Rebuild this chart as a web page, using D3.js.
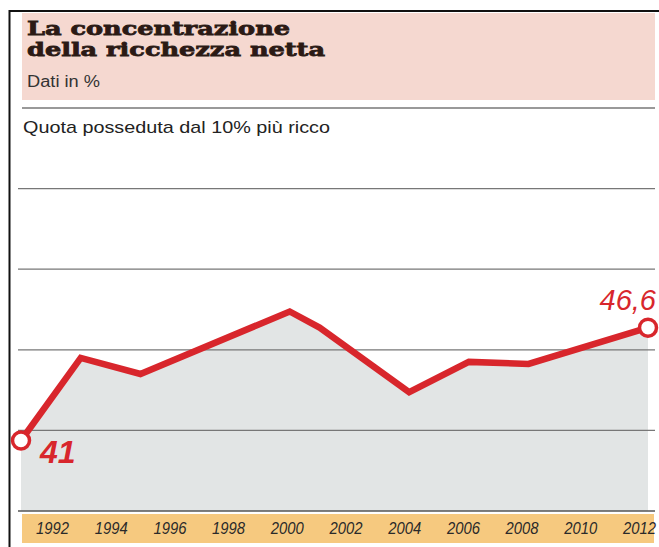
<!DOCTYPE html>
<html>
<head>
<meta charset="utf-8">
<script src="https://cdn.jsdelivr.net/npm/d3@7"></script>
<style>
  html, body { margin: 0; padding: 0; background: #fff; }
  svg { display: block; }
</style>
</head>
<body>
<svg id="chart" width="659" height="547"></svg>
<script>
// Survey years and share of net wealth held by the richest 10% (%)
const years  = [1991, 1993, 1995, 2000, 2001, 2004, 2006, 2008, 2012];
const shares = [41.0, 45.1, 44.3, 47.4, 46.6, 43.4, 44.9, 44.8, 46.6];
// Horizontal reference lines (values on the % scale) and the chart floor
const gridValues = [41.5, 45.5, 49.5, 53.5, 57.5];
const floorValue = 37.5;
// Year labels in the bottom strip
const tickYears = [1992, 1994, 1996, 1998, 2000, 2002, 2004, 2006, 2008, 2010, 2012];
// End-point labels
const endLabels = ["41", "46,6"];

const data = years.map((yr, i) => ({ year: yr, value: shares[i] }));

const svg = d3.select("#chart");
const W = 659, H = 547;

const RED = "#d8262c";

const x = d3.scaleLinear().domain([1991, 2012]).range([21, 648]);
const y = d3.scaleLinear().domain([floorValue, 57.5]).range([511, 108]);
const xLab = d3.scaleLinear().domain([1992, 2012]).range([52, 639]);

svg.append("rect").attr("width", W).attr("height", H).attr("fill", "#fff");

// Frame: top rule and left rule
svg.append("line").attr("x1", 9).attr("x2", W).attr("y1", 11).attr("y2", 11)
  .attr("stroke", "#111").attr("stroke-width", 2);
svg.append("line").attr("x1", 9.5).attr("x2", 9.5).attr("y1", 10).attr("y2", H)
  .attr("stroke", "#111").attr("stroke-width", 2);

// Title panel
svg.append("rect").attr("x", 22).attr("y", 13).attr("width", 633).attr("height", 87)
  .attr("fill", "#f5d8d0");

const title = svg.append("g").attr("font-family", "'DejaVu Serif', serif")
  .attr("font-weight", "bold").attr("fill", "#2b1a15").attr("font-size", 19)
  .attr("stroke", "#2b1a15").attr("stroke-width", 0.8);
title.append("text").attr("x", 27).attr("y", 35).text("La concentrazione")
  .attr("textLength", 263).attr("lengthAdjust", "spacingAndGlyphs");
title.append("text").attr("x", 27).attr("y", 56).text("della ricchezza netta")
  .attr("textLength", 298).attr("lengthAdjust", "spacingAndGlyphs");

svg.append("text").attr("x", 27).attr("y", 87)
  .attr("font-family", "'Liberation Sans', Arial, sans-serif").attr("font-size", 16)
  .attr("fill", "#333").attr("textLength", 73).attr("lengthAdjust", "spacingAndGlyphs")
  .text("Dati in %");

svg.append("text").attr("x", 23).attr("y", 133)
  .attr("font-family", "'Liberation Sans', Arial, sans-serif").attr("font-size", 17)
  .attr("fill", "#222").attr("textLength", 307).attr("lengthAdjust", "spacingAndGlyphs")
  .text("Quota posseduta dal 10% più ricco");

// Shaded area under the series
const area = d3.area()
  .x(d => x(d.year))
  .y0(y(floorValue))
  .y1(d => y(d.value));
svg.append("path").datum(data).attr("d", area).attr("fill", "#e2e5e5");

// Horizontal reference lines
svg.append("g").selectAll("line").data(gridValues).join("line")
  .attr("x1", (d, i) => i === gridValues.length - 1 ? 22 : 18)
  .attr("x2", 655)
  .attr("y1", d => y(d)).attr("y2", d => y(d))
  .attr("stroke", "#777").attr("stroke-width", 1.3);

// Floor line
svg.append("line").attr("x1", 18).attr("x2", 655)
  .attr("y1", y(floorValue)).attr("y2", y(floorValue))
  .attr("stroke", "#555").attr("stroke-width", 1.5);

// Year strip
svg.append("rect").attr("x", 22).attr("y", 514).attr("width", 632).attr("height", 29)
  .attr("fill", "#f6c97f");

const axis = d3.axisBottom(xLab).tickValues(tickYears).tickFormat(d3.format("d"))
  .tickSize(0).tickPadding(0);
const axisG = svg.append("g").attr("transform", "translate(0,523)").call(axis);
axisG.select(".domain").remove();
axisG.selectAll("text")
  .attr("font-family", "'Liberation Sans', Arial, sans-serif")
  .attr("font-size", 16).attr("font-style", "italic").attr("fill", "#2a2a2a")
  .attr("textLength", 33).attr("lengthAdjust", "spacingAndGlyphs")
  .attr("dy", "0.71em");

// Series line
const line = d3.line().x(d => x(d.year)).y(d => y(d.value));
svg.append("path").datum(data).attr("d", line)
  .attr("fill", "none").attr("stroke", RED).attr("stroke-width", 6.5)
  .attr("stroke-linejoin", "miter");

// End-point markers
const ends = [data[0], data[data.length - 1]];
svg.append("g").selectAll("circle").data(ends).join("circle")
  .attr("cx", d => x(d.year)).attr("cy", d => y(d.value)).attr("r", 8.5)
  .attr("fill", "#fff").attr("stroke", RED).attr("stroke-width", 3.5);

// End-point value labels
svg.append("text")
  .attr("x", x(ends[0].year) + 19).attr("y", y(ends[0].value) + 23)
  .attr("font-family", "'Liberation Sans', Arial, sans-serif")
  .attr("font-size", 32).attr("font-style", "italic").attr("font-weight", "bold")
  .attr("fill", RED).text(endLabels[0]);
svg.append("text")
  .attr("x", x(ends[1].year) + 8).attr("y", y(ends[1].value) - 18)
  .attr("text-anchor", "end")
  .attr("font-family", "'Liberation Sans', Arial, sans-serif")
  .attr("font-size", 29).attr("font-style", "italic")
  .attr("fill", RED).text(endLabels[1]);
</script>
</body>
</html>
